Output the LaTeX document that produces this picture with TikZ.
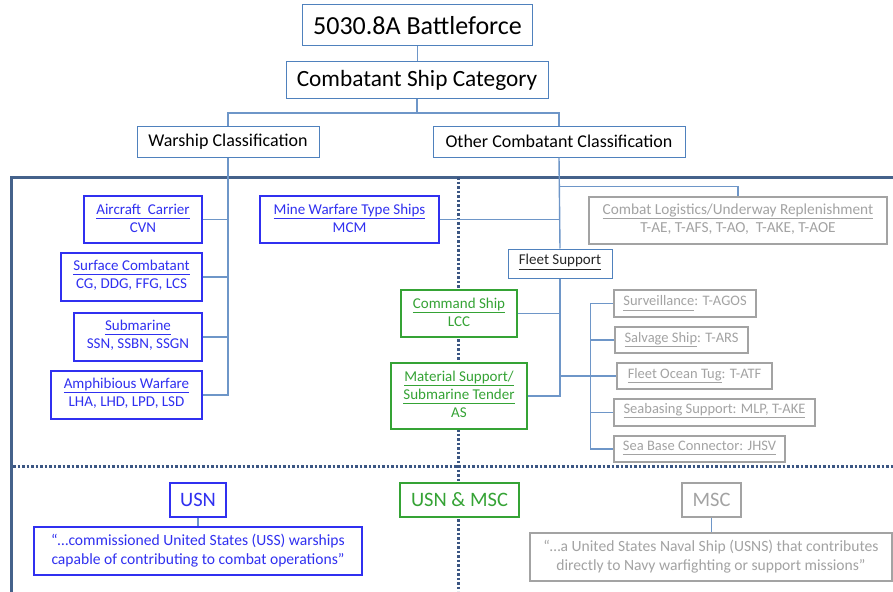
\documentclass[tikz,border=0pt]{standalone}
\usepackage{fontspec}
\setmainfont{Carlito}
\usetikzlibrary{positioning, calc}
\definecolor{bfblue}{HTML}{4F81BD}
\definecolor{bflink}{HTML}{6E96C8}
\definecolor{bfframe}{HTML}{45628B}
\definecolor{bfdots}{HTML}{3B5683}
\definecolor{bfusn}{HTML}{3030F0}
\definecolor{bfgreen}{HTML}{35A335}
\definecolor{bfgrey}{HTML}{A3A3A3}
\definecolor{bfdark}{HTML}{262626}
\newcommand{\uln}[1]{\underline{\smash{#1}\vphantom{gp}}}

\begin{document}
\begin{tikzpicture}[x=1pt, y=-1pt,
      dims/.style 2 args={minimum width=#1pt, minimum height=#2pt},
      head/.style={rectangle, draw=bfblue, fill=white, line width=1pt, inner sep=0pt, text=black, align=center},
      usnbox/.style={rectangle, draw=bfusn, fill=white, line width=1.2pt, inner sep=0pt, text=bfusn, align=center, font=\fontsize{15}{18}\selectfont},
      bothbox/.style={usnbox, draw=bfgreen, text=bfgreen},
      mscbox/.style={usnbox, draw=bfgrey, text=bfgrey},
      tagbox/.style={mscbox, font=\fontsize{14.5}{17}\selectfont},
      owner/.style={font=\fontsize{20.5}{24}\selectfont},
      saying/.style={font=\fontsize{15.6}{19}\selectfont},
      link/.style={draw=bflink, line width=1.4pt},
      bigframe/.style={draw=bfframe, line width=3pt},
      divider/.style={draw=bfdots, line width=3pt, dash pattern=on 2.5pt off 2pt}
    ]
      \useasboundingbox (0,0) rectangle (893,591);
      \draw[bigframe] (11,600) -- (11,177) -- (900,177);
      \draw[divider] (458,177) -- (458,591);
      \draw[divider] (13,466) -- (893,466);

      \node[head, dims={230}{41}, font=\fontsize{26}{30}\selectfont] (force) at (417.5,25.5) {5030.8A Battleforce};
      \node[head, dims={262}{37}, font=\fontsize{23.3}{28}\selectfont] (category) at (417,80) {Combatant Ship Category};
      \node[head, dims={182}{31}, font=\fontsize{18}{22}\selectfont] (warship) at (228,141.5) {Warship Classification};
      \node[head, dims={252}{31}, font=\fontsize{18}{22}\selectfont] (other) at (559,141.5) {Other Combatant Classification};

      \node[usnbox, dims={118}{47}] (carrier) at (143,219.5) {\uln{Aircraft~ Carrier}\\CVN};
      \node[usnbox, dims={141}{48}] (surface) at (131.5,277) {\uln{Surface Combatant}\\CG, DDG, FFG, LCS};
      \node[usnbox, dims={128}{48}] (submarine) at (138,337) {\uln{Submarine}\\SSN, SSBN, SSGN};
      \node[usnbox, dims={151}{48}] (amphib) at (126.5,395) {\uln{Amphibious Warfare}\\LHA, LHD, LPD, LSD};
      \node[usnbox, dims={179}{47}] (mine) at (349.5,219.5) {\uln{Mine Warfare Type Ships}\\MCM};

      \node[head, dims={104}{29}, text=bfdark, font=\fontsize{15}{18}\selectfont] (fleet) at (560,263.5) {\uln{Fleet Support}};
      \node[mscbox, dims={298}{47}, font=\fontsize{15.3}{18}\selectfont] (logistics) at (738,220.5) {\uln{Combat Logistics/Underway Replenishment}\\T-AE, T-AFS, T-AO,~ T-AKE, T-AOE};
      \node[bothbox, dims={116}{47}] (command) at (459,313.5) {\uln{Command Ship}\\LCC};
      \node[bothbox, dims={136}{66}] (tender) at (459,396) {\uln{Material Support/}\\\uln{Submarine Tender}\\AS};

      \node[tagbox, dims={142}{27}] (surveil) at (685,303.5) {\uln{Surveillance}: T-AGOS};
      \node[tagbox, dims={133}{26}] (salvage) at (681.5,340) {\uln{Salvage Ship}: T-ARS};
      \node[tagbox, dims={155}{26}] (tug) at (694.5,376) {\uln{Fleet Ocean Tug}: T-ATF};
      \node[tagbox, dims={201}{27}] (seabase) at (714.5,412.5) {\uln{Seabasing Support: MLP, T-AKE}};
      \node[tagbox, dims={171}{26}] (connector) at (699.5,449) {\uln{Sea Base Connector: JHSV}};

      \node[usnbox, owner, dims={56}{34}] (usn) at (198,500) {USN};
      \node[usnbox, saying, dims={328}{48}] (usnquote) at (198,551) {“…commissioned United States (USS) warships\\capable of contributing to combat operations”};
      \node[bothbox, owner, dims={119}{34}] (both) at (459.5,500) {USN \& MSC};
      \node[mscbox, owner, dims={59}{34}] (msc) at (711.5,500) {MSC};
      \node[mscbox, saying, dims={362}{48}] (mscquote) at (711,557) {“…a United States Naval Ship (USNS) that contributes\\directly to Navy warfighting or support missions”};

      \draw[link] (force.south) -- (force.south |- category.north);
      \draw[link] (category.south) -- ++(0,14) -| (warship.north);
      \draw[link] (category.south) -- ++(0,14) -| (other.north);

      \draw[link] (warship.south) |- (amphib.east);
      \foreach \w in {carrier, surface, submarine} {
        \draw[link] (\w.east) -- (\w.east -| warship.south);
      }

      \draw[link] (other.south) -- (fleet.north);
      \draw[link] (mine.east) -- (mine.east -| other.south);
      \draw[link] ([yshift=10pt]logistics.north -| other.south) -| (logistics.north);

      \draw[link] (fleet.south) |- (tender.east);
      \draw[link] (command.east) -- (command.east -| fleet.south);
      \draw[link] (tug.west -| fleet.south) -- (tug.west);
      \draw[link] (surveil.west) -- ++(-23,0) coordinate (tagtop) |- (connector.west);
      \foreach \t in {salvage, seabase} {
        \draw[link] (\t.west) -- (\t.west -| tagtop);
      }

      \draw[link] (usn.south) -- (usnquote.north);
      \draw[link] (msc.south) -- (msc.south |- mscquote.north);
    \end{tikzpicture}
\end{document}
